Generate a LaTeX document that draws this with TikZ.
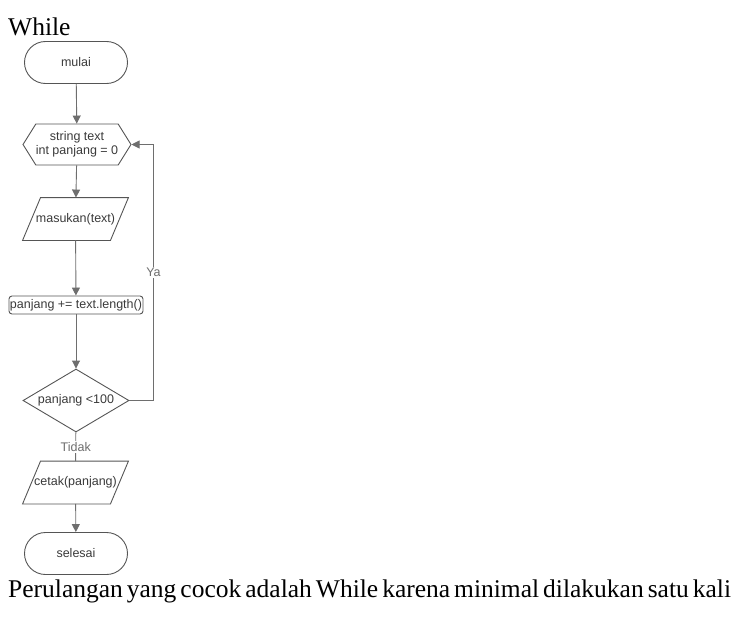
\documentclass[tikz,border=0pt]{standalone}
\usepackage{fontspec}
\setmainfont{Liberation Serif}
\newfontfamily\arialf{Liberation Sans}
\usetikzlibrary{shapes.geometric,shapes.misc,shapes.symbols,arrows.meta}
\definecolor{edge}{HTML}{555555}
\definecolor{conn}{HTML}{6E6E6E}
\definecolor{txt}{HTML}{3A3A3A}
\newcommand\bigfnt{\fontsize{25.5}{30}\selectfont\spaceskip=4pt plus 1pt\relax}
\begin{document}
\begin{tikzpicture}[x=1pt,y=-1pt,
  flow/.style={draw=edge, line width=0.9pt, text=txt, inner sep=1pt,
    font=\arialf\fontsize{12.5}{14}\selectfont, align=center},
  term/.style={flow, rounded rectangle, minimum width=105pt, minimum height=42pt},
  hexa/.style={flow, signal, signal to=east and west, signal pointer angle=116,
    minimum width=106pt, minimum height=41pt, inner xsep=0pt},
  io/.style={flow, draw=none, rectangle, minimum width=105pt, minimum height=42pt, inner xsep=0pt,
    append after command={\pgfextra{\draw[draw=edge, line width=0.9pt]
      ([xshift=18pt]\tikzlastnode.north west) -- (\tikzlastnode.north east)
      -- ([xshift=-18pt]\tikzlastnode.south east) -- (\tikzlastnode.south west) -- cycle;}}},
  proc/.style={flow, rectangle, rounded corners=3pt, minimum width=134pt, minimum height=18pt, inner xsep=0.5pt, inner ysep=0pt},
  dec/.style={flow, diamond, aspect=1.68, minimum width=106pt, minimum height=63pt, inner sep=0pt},
  line/.style={draw=conn, line width=0.9pt},
  arr/.style={line, -{Triangle[length=8pt,width=8pt]}},
  lbl/.style={fill=white, text=conn, inner sep=1.5pt, font=\arialf\fontsize{12.5}{14}\selectfont},
  big/.style={font=\bigfnt, inner sep=0pt}
]
\useasboundingbox (0,0) rectangle (736,618);
\node[big, anchor=base west] (title) at (8,36) {While};
\node[term] (mulai) at (76,62.5) {mulai};
\node[hexa] (init) at (77,144.5) {string text\\int panjang = 0};
\node[io] (input) at (75.5,219) {masukan(text)};
\node[proc] (hitung) at (76,305) {panjang += text.length()};
\node[dec] (cond) at (76,400.5) {panjang <100};
\node[io] (output) at (75.5,482.5) {cetak(panjang)};
\node[term] (selesai) at (76,553.5) {selesai};
\node[big, anchor=base west] (note) at (8,597) {Perulangan yang cocok adalah While karena minimal dilakukan satu kali};
\draw[arr] (mulai) -- (init);
\draw[arr] (init) -- (input);
\draw[arr] (input) -- (hitung);
\draw[arr] (hitung) -- (cond);
\draw[line] (cond) -- node[lbl] {Tidak} (output);
\draw[arr] (output) -- (selesai);
\draw[arr] (cond.east) -- ++(24,0) |- node[lbl, pos=0.25] {Ya} (init.east);
\end{tikzpicture}
\end{document}
